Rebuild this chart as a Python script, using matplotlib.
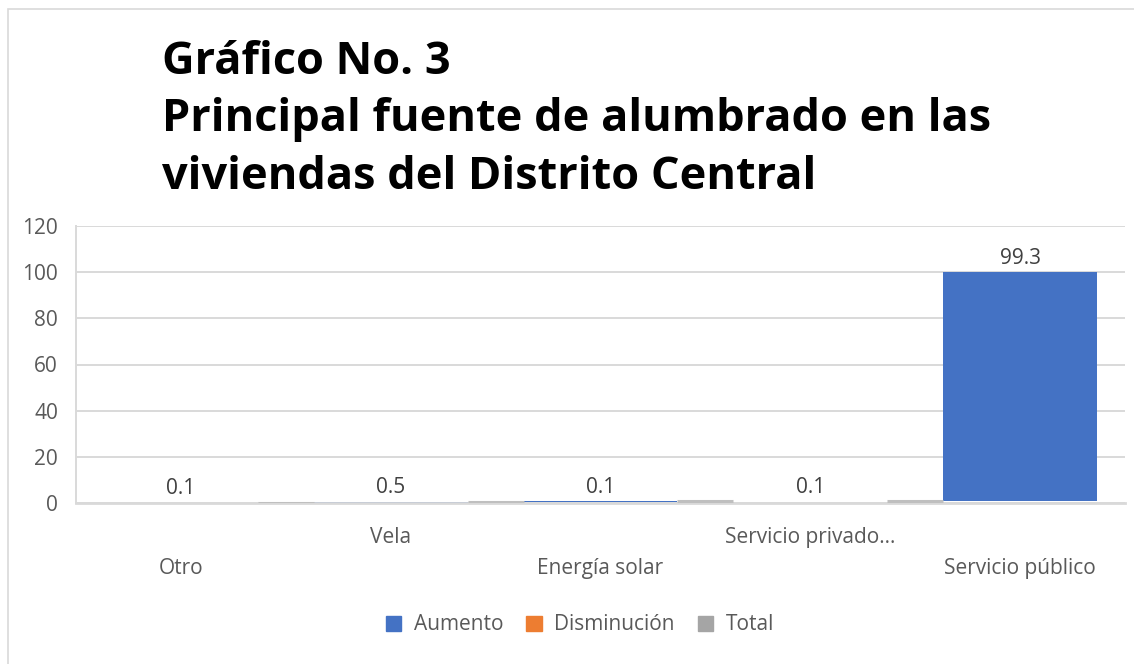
import matplotlib
matplotlib.use('Agg')
import matplotlib.pyplot as plt
from matplotlib.patches import Rectangle, Patch
import numpy as np

plt.rcParams['font.family'] = ['Open Sans', 'DejaVu Sans']

# datos del grafico (cascada)
categorias = ['Otro', 'Vela', 'Energía solar', 'Servicio privado...', 'Servicio público']
valores = [0.1, 0.5, 0.1, 0.1, 99.3]
etiquetas = ['0.1', '0.5', '0.1', '0.1', '99.3']
yticks = [0, 20, 40, 60, 80, 100, 120]
leyenda = ['Aumento', 'Disminución', 'Total']

AZUL = '#4472C4'
NARANJA = '#ED7D31'
GRIS = '#A5A5A5'
TEXTO = '#595959'
GRID = '#D9D9D9'

fig = plt.figure(figsize=(11.34, 6.64), dpi=100)
fig.patch.set_facecolor('white')

# borde del area del grafico
fig.patches.append(Rectangle((8/1134, -0.1), 1.2, 1 - 9/664 + 0.1,
                             transform=fig.transFigure, fill=False,
                             edgecolor='#D9D9D9', linewidth=1.2))

ax = fig.add_axes([76/1134, 161/664, 1049/1134, 277/664])

x = np.arange(len(categorias))
base = np.concatenate([[0], np.cumsum(valores)[:-1]])
ancho = 0.734

ax.bar(x, valores, bottom=base, width=ancho, color=AZUL, linewidth=0, zorder=2)

# conectores entre barras
acum = np.cumsum(valores)
ax.hlines(acum[:-1], x[:-1] + ancho/2, x[1:] - ancho/2,
          color='#BFBFBF', linewidth=2.2, zorder=3)

# etiquetas de datos
for i, (b, v, t) in enumerate(zip(base, valores, etiquetas)):
    ax.annotate(t, xy=(i, b + v), xytext=(0, 10), textcoords='offset points',
                ha='center', va='center', fontsize=15, color='#404040')

ax.set_xlim(-0.5, 4.5)
ax.set_ylim(0, 120)
ax.set_yticks(yticks)
ax.set_yticklabels([str(t) for t in yticks], fontsize=15, color=TEXTO)
ax.tick_params(axis='y', length=0, pad=13)
ax.set_xticks([])
ax.yaxis.grid(True, color=GRID, linewidth=1.4, zorder=0)
for s in ['top', 'right']:
    ax.spines[s].set_visible(False)
ax.spines['left'].set_color(GRID)
ax.spines['left'].set_linewidth(1.4)
ax.spines['bottom'].set_color(GRID)
ax.spines['bottom'].set_linewidth(2.0)
ax.spines['bottom'].set_zorder(2.6)

# etiquetas de categorias escalonadas
for i, c in enumerate(categorias):
    desp = -25 if i % 2 == 1 else -47
    ax.annotate(c, xy=(i, 0), xycoords=('data', 'axes fraction'),
                xytext=(0, desp), textcoords='offset points',
                ha='center', va='center', fontsize=15, color=TEXTO)

# titulo
fig.text(162/1134, 1 - 120/664,
         'Gráfico No. 3\nPrincipal fuente de alumbrado en las\nviviendas del Distrito Central',
         fontsize=32.5, fontweight='bold', color='black', ha='left', va='center',
         linespacing=1.37)

handles = [Patch(facecolor=c, edgecolor=c) for c in [AZUL, NARANJA, GRIS]]
fig.legend(handles, leyenda, loc='center', bbox_to_anchor=(580/1134, 39/664),
           ncol=3, frameon=False, fontsize=15, handlelength=0.75, handleheight=0.75,
           handletextpad=0.6, columnspacing=1.1, labelcolor=TEXTO)

fig.savefig('out.png', dpi=100)
